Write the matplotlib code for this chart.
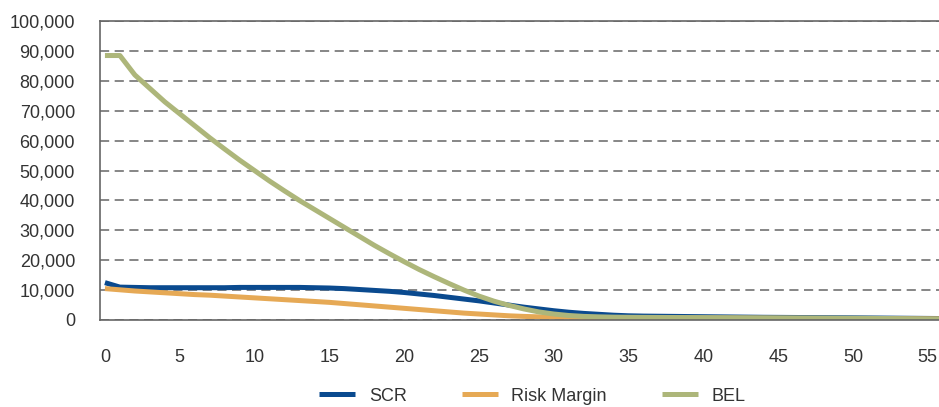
import numpy as np
import matplotlib
matplotlib.use('Agg')
import matplotlib.pyplot as plt
from matplotlib.ticker import FuncFormatter

plt.rcParams['font.family'] = ['Liberation Sans', 'DejaVu Sans']

years = np.arange(0, 57)

scr = [12500, 11000, 10900, 10800, 10800, 10800, 10800, 10800, 10800, 10900,
       10900, 10900, 10900, 10900, 10800, 10700, 10500, 10200, 9900, 9600,
       9200, 8700, 8200, 7600, 7000, 6400, 5700, 5000, 4300, 3700,
       3100, 2600, 2200, 1900, 1600, 1400, 1300, 1250, 1200, 1150,
       1100, 1050, 1000, 950, 900, 870, 840, 810, 780, 750,
       720, 680, 640, 600, 560, 520, 480]

risk_margin = [10500, 10100, 9700, 9400, 9100, 8800, 8500, 8300, 8000, 7700,
               7400, 7100, 6800, 6500, 6200, 5900, 5500, 5100, 4700, 4300,
               3900, 3500, 3100, 2700, 2300, 2000, 1700, 1400, 1200, 1050,
               950, 900, 850, 820, 800, 780, 760, 740, 720, 700,
               680, 660, 640, 620, 600, 580, 560, 540, 520, 500,
               480, 460, 440, 420, 400, 380, 360]

bel = [88500, 88500, 82000, 77500, 73000, 69000, 65000, 61000, 57200, 53500,
       50000, 46500, 43200, 40000, 37000, 34000, 31000, 28000, 25000, 22200,
       19500, 16900, 14500, 12200, 10000, 8000, 6300, 4900, 3700, 2700,
       2000, 1500, 1200, 1050, 950, 900, 870, 850, 830, 810,
       790, 770, 750, 730, 710, 690, 670, 650, 630, 610,
       580, 550, 500, 450, 400, 350, 320]

fig = plt.figure(figsize=(9.39, 4.07), dpi=100)
ax = fig.add_axes([0.1065, 0.2138, 0.8935, 0.7342])

ax.plot(years, scr, color='#0a4a8f', lw=3.6, label='SCR', solid_capstyle='butt')
ax.plot(years, risk_margin, color='#e6a955', lw=3.6, label='Risk Margin', solid_capstyle='butt')
ax.plot(years, bel, color='#adb67a', lw=3.6, label='BEL', solid_capstyle='butt')

ax.set_xlim(-0.33, 55.75)
ax.set_ylim(0, 100000)
ax.set_xticks(np.arange(0, 56, 5))
ax.set_yticks(np.arange(0, 100001, 10000))
ax.yaxis.set_major_formatter(FuncFormatter(lambda v, p: f'{int(v):,}'))

ax.grid(axis='y', color='#666666', lw=1.1, linestyle=(0, (6, 3.6)))
ax.set_axisbelow(True)
ax.tick_params(length=0, labelsize=13, colors='#333333')
ax.tick_params(axis='y', pad=18)
ax.tick_params(axis='x', pad=21)
for s in ['left', 'bottom', 'top']:
    ax.spines[s].set_color('#666666')
    ax.spines[s].set_linewidth(1.2)
ax.spines['right'].set_visible(False)

leg = fig.legend(loc='center', bbox_to_anchor=(0.567, 0.027), ncol=3,
                 frameon=False, fontsize=13, handlelength=2.0, columnspacing=3.05,
                 handletextpad=0.75, borderpad=0)
for t in leg.get_texts():
    t.set_color('#333333')

fig.savefig('out.png', dpi=100)
